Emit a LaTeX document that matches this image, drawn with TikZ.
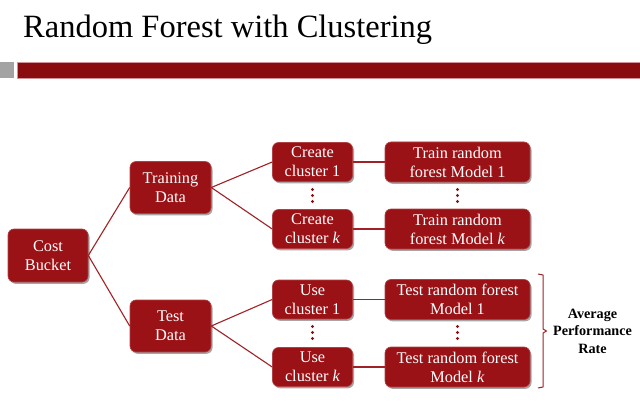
\documentclass[tikz,border=0pt]{standalone}
\usepackage{fontspec}
\setmainfont{Liberation Serif}
\usetikzlibrary{shadows}
\definecolor{wine}{HTML}{9B1216}
\definecolor{winebar}{HTML}{890C0F}
\definecolor{wineline}{HTML}{A02226}
\definecolor{squaregray}{HTML}{A3A3A3}
\begin{document}
\begin{tikzpicture}[x=1pt,y=-1pt,
  box/.style={draw=wine!80!white, line width=0.6pt, fill=wine, rounded corners=6pt,
    text=white, align=center, inner sep=0pt,
    font=\fontsize{16.3}{19}\selectfont,
    drop shadow={shadow xshift=1.5pt, shadow yshift=-1.8pt, opacity=0.35, fill=black}},
  small/.style={box, minimum width=80pt, minimum height=39pt},
  wide/.style={box, minimum width=145pt, minimum height=40pt},
  mid/.style={box, minimum width=81pt, minimum height=52pt},
  link/.style={draw=wineline, line width=1.1pt},
  dot/.style={fill=wine!90!black, draw=none}]
\useasboundingbox (0,0) rectangle (640,401);
\fill[white] (0,0) rectangle (640,401);

% title and header bar
\node[anchor=base west, inner sep=0pt, font=\fontsize{32.5}{36}\selectfont] (title) at (23,37.5) {Random Forest with Clustering};
\fill[squaregray] (0,62) rectangle (14,78);
\fill[winebar] (17,62) rectangle (640,78);
\draw[wine!45!white, line width=0.5pt] (17,62) rectangle (641,78);

% tree nodes
\node[box, minimum width=80pt, minimum height=53pt] (cost) at (48,255.5) {Cost\\Bucket};
\node[mid] (train) at (170.5,187.5) {Training\\Data};
\node[mid] (test) at (170.5,326) {Test\\Data};

\node[small] (cc1) at (312.5,162) {Create\\cluster 1};
\node[small] (cck) at (312.5,229) {Create\\cluster \textit{k}};
\node[wide] (tm1) at (457.5,162) {Train random\\forest Model 1};
\node[wide] (tmk) at (457.5,229) {Train random\\forest Model \textit{k}};

\node[small] (uc1) at (312.5,299.5) {Use\\cluster 1};
\node[small] (uck) at (312.5,367) {Use\\cluster \textit{k}};
\node[wide] (te1) at (457.5,299.5) {Test random forest\\Model 1};
\node[wide] (tek) at (457.5,367) {Test random forest\\Model \textit{k}};

% connectors
\draw[link] (cost.east) -- (train.west);
\draw[link] (cost.east) -- (test.west);
\draw[link] (train.east) -- (cc1.west);
\draw[link] (train.east) -- (cck.west);
\draw[link] (test.east) -- (uc1.west);
\draw[link] (test.east) -- (uck.west);
\draw[link] (cc1.east) -- (tm1.west);
\draw[link] (cck.east) -- (tmk.west);
\draw[link] (uc1.east) -- (te1.west);
\draw[link] (uck.east) -- (tek.west);

% vertical ellipses between first and k-th rows
\foreach \x in {312.5,457.5}{
  \foreach \y in {189.5,195.5,201.5,326.5,332.5,338.5}{
    \fill[dot] (\x,\y) circle (1.7pt);
  }
}

% bracket and its label
\draw[wineline, line width=1pt, line join=round]
  (538,274) -- (543,275) -- (543,329) -- (546.5,331) -- (543,333) -- (543,387) -- (538,388);
\node[align=center, font=\bfseries\fontsize{14.2}{17.5}\selectfont, inner sep=0pt] (avg) at (592.5,331) {Average\\Performance\\Rate};
\end{tikzpicture}
\end{document}
